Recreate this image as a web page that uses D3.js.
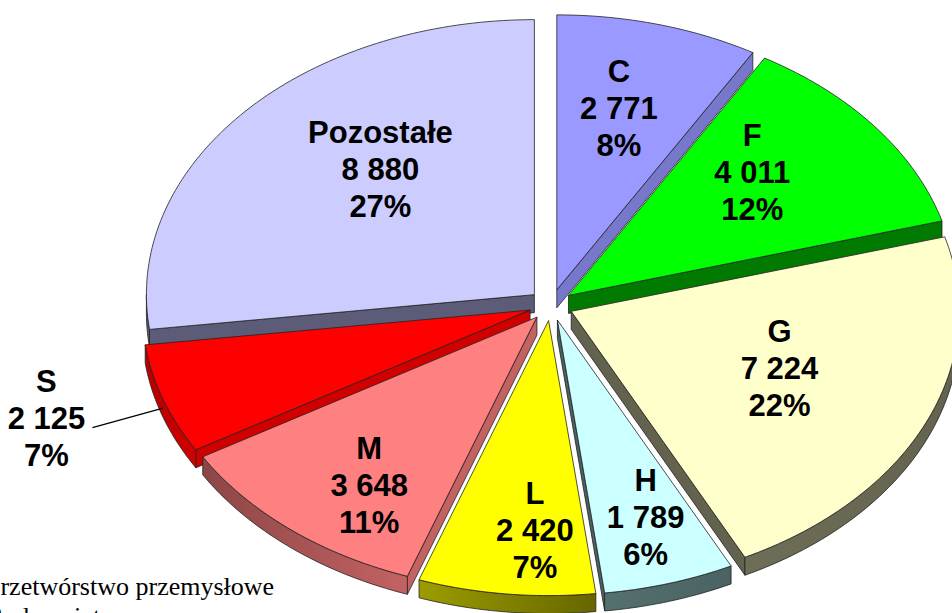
<!DOCTYPE html>
<html>
<head>
<meta charset="utf-8">
<script src="https://cdn.jsdelivr.net/npm/d3@7"></script>
<style>
body { margin: 0; background: #fff; }
svg { display: block; }
</style>
</head>
<body>
<svg width="952" height="613"></svg>
<script>
// data
var sectors = ['C', 'F', 'G', 'H', 'L', 'M', 'S', 'Pozostałe'];
var values = [2771, 4011, 7224, 1789, 2420, 3648, 2125, 8880];
var percents = ['8%', '12%', '22%', '6%', '7%', '11%', '7%', '27%'];
var notes = ['Przetwórstwo przemysłowe', 'Budownictwo'];

// colours: top face, side wall (left -> right)
var topColors = ['#9999ff', '#00ff00', '#ffffcc', '#ccffff', '#ffff00', '#ff8080', '#ff0000', '#ccccff'];
var wallColors = [
    ['#7777cc', '#7777cc'],
    ['#007a00', '#007a00'],
    ['#6e6e58', '#62624e'],
    ['#557070', '#4a6262'],
    ['#9c9c00', '#666600'],
    ['#8c4646', '#c46262'],
    ['#b80000', '#d00000'],
    ['#5c5c78', '#5c5c78']
];
// label nudges (layout only)
var labelNudge = [[-7, -1], [-25, -9], [-33, -19], [12, 18], [15, 24], [0, 24], [-234, 47], [44, -2]];

var svg = d3.select('svg');
var cx = 551, cy = 305, rx = 388, ry = 275, depth = 18, explode = 0.057;

var fmt = d3.formatLocale({ decimal: ',', thousands: ' ', grouping: [3], currency: ['', ''] }).format(',d');

var arcs = d3.pie().sort(null).value(function(d) { return d; })(values);
arcs.forEach(function(d, i) {
    d.i = i;
    d.mid = (d.startAngle + d.endAngle) / 2;
    d.off = [explode * rx * Math.sin(d.mid), -explode * ry * Math.cos(d.mid)];
});

function pt(d, a, r, dz) {
    return [cx + d.off[0] + r * rx * Math.sin(a), cy + d.off[1] - r * ry * Math.cos(a) + (dz || 0)];
}
function arcPts(d, a0, a1, dz) {
    var n = Math.max(2, Math.ceil((a1 - a0) / 0.02));
    return d3.range(n + 1).map(function(k) { return pt(d, a0 + (a1 - a0) * k / n, 1, dz); });
}
var line = d3.line();

var defs = svg.append('defs');
arcs.forEach(function(d) {
    var g = defs.append('linearGradient').attr('id', 'wall' + d.i)
        .attr('x1', 0).attr('x2', 1).attr('y1', 0).attr('y2', 0);
    g.append('stop').attr('offset', '0%').attr('stop-color', wallColors[d.i][0]);
    g.append('stop').attr('offset', '100%').attr('stop-color', wallColors[d.i][1]);
});

// back slices first
var order = arcs.slice().sort(function(a, b) { return -Math.cos(a.mid) + Math.cos(b.mid); });

var pie = svg.append('g').attr('class', 'pie');
order.forEach(function(d) {
    var g = pie.append('g').attr('class', 'slice');
    var c0 = pt(d, 0, 0), c1 = pt(d, 0, 0, depth);
    var wallFill = 'url(#wall' + d.i + ')';

    // radial walls
    [[d.startAngle, Math.sin(d.startAngle) < -1e-6], [d.endAngle, Math.sin(d.endAngle) > 1e-6]].forEach(function(e) {
        if (!e[1]) return;
        var p0 = pt(d, e[0], 1), p1 = pt(d, e[0], 1, depth);
        g.append('path')
            .attr('d', line([c0, p0, p1, c1]) + 'Z')
            .attr('fill', wallColors[d.i][1])
            .attr('stroke', '#222').attr('stroke-width', 0.8).attr('stroke-linejoin', 'round');
    });

    // outer wall (front half only)
    var a0 = Math.max(d.startAngle, Math.PI / 2), a1 = Math.min(d.endAngle, Math.PI * 1.5);
    if (a1 > a0) {
        var topPts = arcPts(d, a0, a1, 0), botPts = arcPts(d, a0, a1, depth).reverse();
        g.append('path')
            .attr('d', line(topPts.concat(botPts)) + 'Z')
            .attr('fill', wallFill)
            .attr('stroke', '#222').attr('stroke-width', 0.8).attr('stroke-linejoin', 'round');
    }

    // top face
    g.append('path')
        .attr('d', line([c0].concat(arcPts(d, d.startAngle, d.endAngle, 0))) + 'Z')
        .attr('fill', topColors[d.i])
        .attr('stroke', '#222').attr('stroke-width', 0.8).attr('stroke-linejoin', 'round');
});

// labels
var labels = svg.append('g').attr('class', 'labels')
    .attr('font-family', '"Liberation Sans", Arial, sans-serif')
    .attr('font-weight', 'bold').attr('font-size', 31).attr('text-anchor', 'middle').attr('fill', '#000');

arcs.forEach(function(d) {
    var p = pt(d, d.mid, 0.68);
    var x = p[0] + labelNudge[d.i][0], y = p[1] + labelNudge[d.i][1];
    var t = labels.append('text').attr('x', x).attr('y', y + 11);
    t.append('tspan').attr('x', x).attr('dy', -37).text(sectors[d.i]);
    t.append('tspan').attr('x', x).attr('dy', 37).text(fmt(values[d.i]));
    t.append('tspan').attr('x', x).attr('dy', 37).text(percents[d.i]);

    // leader line for the outside label
    if (sectors[d.i] === 'S') {
        var q = pt(d, d.mid, 1, depth / 2);
        svg.append('path')
            .attr('d', line([[x + 46, y + 10], q]))
            .attr('fill', 'none').attr('stroke', '#000').attr('stroke-width', 1.2);
    }
});

// legend notes, cut at the left edge
svg.append('g').selectAll('text').data(notes).enter().append('text')
    .attr('x', -14)
    .attr('y', function(d, i) { return 595 + i * 30; })
    .attr('font-family', '"Liberation Serif", "Times New Roman", serif')
    .attr('font-size', 26)
    .text(function(d) { return d; });
</script>
</body>
</html>
